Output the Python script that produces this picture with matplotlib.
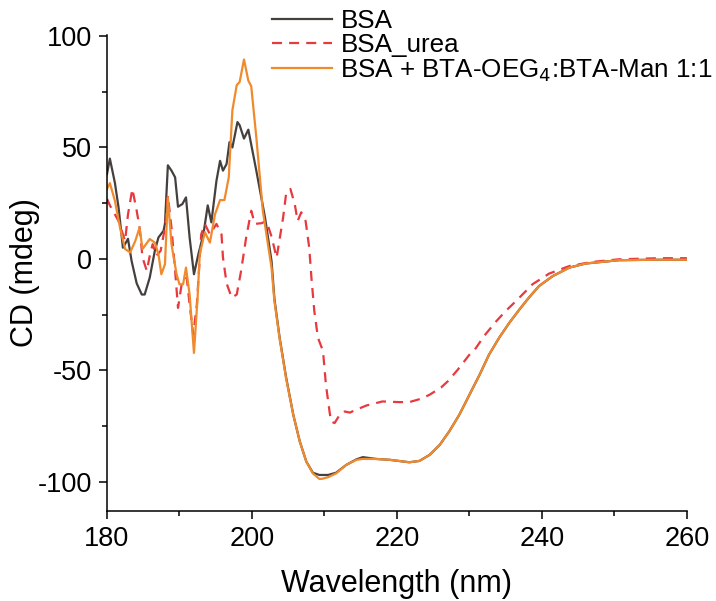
import matplotlib
matplotlib.use("Agg")
import matplotlib.pyplot as plt
from matplotlib.ticker import MultipleLocator

plt.rcParams["font.family"] = ["Liberation Sans", "DejaVu Sans"]
plt.rcParams["axes.unicode_minus"] = False

# BSA (native)
bsa_wl = [180, 180.4, 181.1, 181.6, 182.2, 182.9, 183.4, 184.1, 184.8, 185.2,
          185.9, 186.6, 187.1, 187.8, 188.0, 188.4, 188.9, 189.4, 189.8, 190.4,
          190.9, 191.4, 192.0, 192.6, 193.3, 193.9, 194.4, 195.1, 195.6, 196.0,
          196.5, 196.9, 197.3, 198.0, 198.3, 198.9, 199.5, 200.6, 201.8, 202.7,
          203.1, 203.8, 204.7, 205.7, 206.6, 207.5, 208.4, 209.3, 209.7, 210.5,
          211.6, 213.0, 214.4, 215.3, 217.1, 219.0, 221.7, 223.1, 224.5, 225.9,
          227.2, 228.6, 230.0, 231.4, 232.7, 234.1, 235.5, 236.9, 238.2, 239.6,
          241.5, 243.8, 246.0, 250.6, 255.2, 260]
bsa_cd = [38, 45, 34, 23, 5, 9, -1, -11, -16, -16,
          -8.4, 3.6, 9.6, 12.6, 15.7, 42, 39.6, 36.6, 23.4, 24.6,
          27.6, 9.6, -6.9, 2, 11, 24, 16.4, 35, 44, 39.6,
          42.6, 52.4, 50, 61.4, 60, 54, 58, 39.6, 18.6, -1,
          -18, -35, -53, -70, -82, -91, -96, -97, -97, -97,
          -96, -92.5, -90, -89, -89.8, -90.2, -91.3, -90.7, -88, -83.5,
          -77.5, -70, -61, -52, -43, -35.4, -28.7, -22.7, -17.4, -12.2,
          -7.7, -3.9, -2.1, -0.6, -0.4, -0.4]

# BSA in urea
urea_wl = [180, 180.4, 181.6, 182.5, 182.9, 183.5, 184.1, 184.5, 184.9, 185.5,
           185.9, 186.3, 186.8, 187.4, 188.0, 188.4, 188.9, 189.4, 189.8, 190.3,
           191.0, 191.4, 191.9, 192.4, 193.0, 193.5, 194.2, 195.1, 195.8, 196.0,
           196.5, 197.2, 197.9, 198.5, 199.2, 199.9, 200.4, 201.3, 202.0, 202.7,
           203.4, 204.3, 204.7, 205.3, 205.9, 206.3, 206.8, 207.4, 207.9, 208.2,
           208.6, 209.1, 209.8, 210.2, 210.7, 210.9, 211.4, 212.1, 212.8, 213.5,
           214.4, 215.8, 217.4, 218.0, 220.3, 221.7, 223.3, 224.5, 226.1, 227.0,
           228.4, 230.0, 230.9, 232.0, 233.7, 235.0, 236.4, 237.8, 238.7, 241.0,
           243.8, 246.9, 250.6, 256.1, 260]
urea_cd = [27, 24, 17, 8, 20, 31.4, 21.6, 14, 0.6, -5.4,
           1.4, 6.6, 1.4, 3.6, 14, 28.4, 14, -5.4, -22, -11.4,
           -8.4, -20.4, -34, -20.4, 11, 15.7, 11, 15.7, 11, 0.6,
           -11, -17.4, -16, -5.4, 9.6, 21.6, 15.7, 16, 17, 10,
           0.5, 18.6, 29, 31.4, 24.6, 17, 20.9, 17, 5, -8.4,
           -23.4, -35.4, -41.4, -56.4, -68.5, -73, -73.7, -70, -68.5, -69,
           -67.7, -65.8, -64.5, -64, -64.3, -64.3, -62.8, -61, -57.7, -55,
           -49.7, -43, -40, -34.7, -28, -23.4, -19, -14.4, -11.4, -6.6,
           -3.2, -1.4, -0.2, 0.3, 0.3]

# BSA + BTA-OEG4:BTA-Man 1:1
mix_wl = [180, 180.4, 181.1, 181.8, 182.5, 183.2, 183.9, 184.5, 184.9, 185.9,
          186.6, 187.1, 187.5, 188.0, 188.4, 188.9, 189.6, 190.0, 190.5, 190.9,
          191.4, 192.0, 192.5, 192.8, 193.5, 194.2, 194.9, 195.6, 196.2, 196.8,
          197.3, 197.9, 198.3, 198.9, 199.5, 199.9, 200.6, 201.5, 202.7, 203.1,
          203.8, 204.7, 205.7, 206.6, 207.5, 208.4, 209.3, 209.7, 210.5, 211.6,
          213.0, 214.4, 215.3, 217.1, 219.0, 221.7, 223.1, 224.5, 225.9, 227.2,
          228.6, 230.0, 231.4, 232.7, 234.1, 235.5, 236.9, 238.2, 239.6, 241.5,
          243.8, 246.0, 250.6, 255.2, 260]
mix_cd = [31.4, 34, 26, 14, 4.4, 2.9, 8, 14, 4.4, 8.9,
          7.3, 2.1, -6.9, -2.4, 27.6, 6.6, -6.9, -11.4, -11.4, -3.9,
          -16, -42.2, -17.4, 2, 12, 7.3, 20, 26.4, 26.4, 36.6,
          66.7, 78, 79.4, 89.5, 80, 77.5, 54.6, 21.6, -4, -19,
          -35.4, -53.5, -70, -82, -91, -96.3, -98.8, -98.7, -98, -96.3,
          -92.5, -90.2, -89.8, -89.8, -90.2, -91.3, -90.7, -88, -83.5, -77.5,
          -70, -61, -52, -43, -35.4, -28.7, -22.7, -17.4, -12.2, -7.7,
          -3.9, -2.1, -0.6, -0.4, -0.4]

fig = plt.figure(figsize=(7.16, 6.01), dpi=100)
ax = fig.add_axes([0.1494, 0.1504, 0.810, 0.7914])

ax.plot(bsa_wl, bsa_cd, color="#45403d", lw=1.6, label="BSA")
ax.plot(urea_wl, urea_cd, color="#e8393f", lw=1.6, dashes=(4.5, 3.2), label="BSA_urea")
ax.plot(mix_wl, mix_cd, color="#f08a2c", lw=1.6, label="BSA + BTA-OEG$_4$:BTA-Man 1:1")

ax.set_xlim(180, 260)
ax.set_ylim(-113, 100.5)
ax.xaxis.set_major_locator(MultipleLocator(20))
ax.xaxis.set_minor_locator(MultipleLocator(10))
ax.yaxis.set_major_locator(MultipleLocator(50))
ax.yaxis.set_minor_locator(MultipleLocator(25))

for side in ("top", "right"):
    ax.spines[side].set_visible(False)
for side in ("left", "bottom"):
    ax.spines[side].set_linewidth(1.1)
ax.tick_params(which="major", direction="out", length=6, width=1.1, labelsize=19.5, pad=5)
ax.tick_params(which="minor", direction="out", length=3.5, width=1.1)

ax.set_xlabel("Wavelength (nm)", fontsize=22, labelpad=12)
ax.set_ylabel("CD (mdeg)", fontsize=22, labelpad=-2)

fig.legend(loc="upper left", bbox_to_anchor=(0.38, 0.985), frameon=False,
           fontsize=18.7, handlelength=2.3, handletextpad=0.33, labelspacing=0.0,
           borderpad=0, borderaxespad=0)

fig.savefig("out.png", dpi=100)
